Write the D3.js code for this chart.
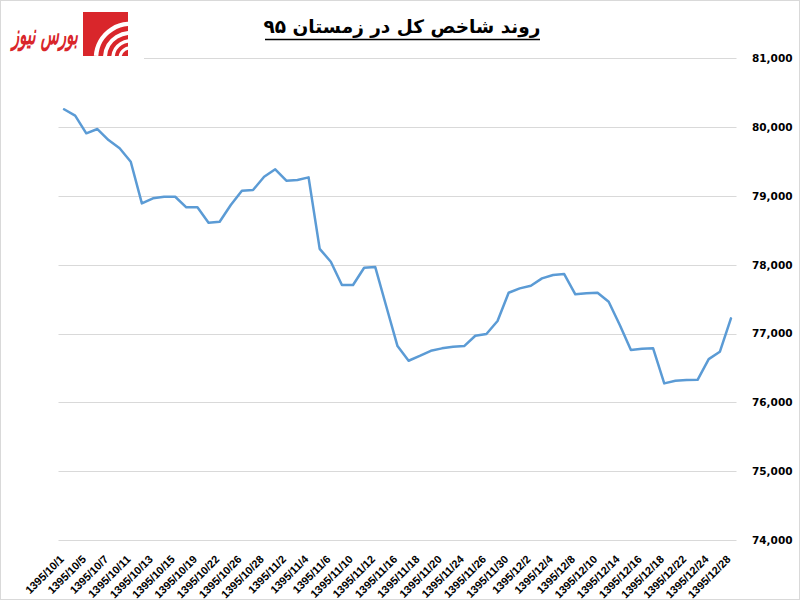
<!DOCTYPE html>
<html>
<head>
<meta charset="utf-8">
<script src="https://cdn.jsdelivr.net/npm/d3@7"></script>
<style>
  html, body { margin: 0; padding: 0; background: #fff; }
  svg { display: block; }
</style>
</head>
<body>
<svg id="chart" width="800" height="600"></svg>
<script>
// ---- data ----
const titleText = "روند شاخص کل در زمستان ۹۵";
const logoText = "بورس نیوز";
const tickLabels = [
  "1395/10/1","1395/10/5","1395/10/7","1395/10/11","1395/10/13","1395/10/15",
  "1395/10/19","1395/10/22","1395/10/26","1395/10/28","1395/11/2","1395/11/4",
  "1395/11/6","1395/11/10","1395/11/12","1395/11/16","1395/11/18","1395/11/20",
  "1395/11/24","1395/11/26","1395/11/30","1395/12/2","1395/12/4","1395/12/8",
  "1395/12/10","1395/12/14","1395/12/16","1395/12/18","1395/12/22","1395/12/24",
  "1395/12/28"
];
const indexValues = [
  80259, 80166, 79910, 79972, 79812, 79692, 79497, 78892, 78965, 78988,
  78988, 78834, 78834, 78611, 78625, 78868, 79076, 79086, 79279, 79387,
  79221, 79231, 79270, 78230, 78044, 77705, 77705, 77956, 77966, 77390,
  76818, 76605, 76675, 76750, 76785, 76808, 76818, 76968, 76993, 77182,
  77593, 77657, 77695, 77802, 77850, 77864, 77570, 77584, 77593, 77462,
  77124, 76760, 76779, 76785, 76276, 76314, 76324, 76328, 76629, 76735,
  77221
];
const yTicks = [74000, 75000, 76000, 77000, 78000, 79000, 80000, 81000];

// ---- layout ----
const svg = d3.select("#chart");
const plot = { left: 58.5, right: 736.5, top: 58.3, bottom: 540 };

// outer border
svg.append("rect").attr("x", 0.5).attr("y", 0.5).attr("width", 799).attr("height", 599)
  .attr("fill", "#fff").attr("stroke", "#d9d9d9");

const idx = d3.range(indexValues.length);
const x = d3.scalePoint().domain(idx).range([plot.left, plot.right]).padding(0.5);
const y = d3.scaleLinear().domain([74000, 81000]).range([plot.bottom, plot.top]);

// gridlines
svg.append("g").selectAll("line").data(yTicks).join("line")
  .attr("x1", plot.left).attr("x2", plot.right)
  .attr("y1", d => Math.round(y(d)) + 0.5).attr("y2", d => Math.round(y(d)) + 0.5)
  .attr("stroke", "#d9d9d9").attr("stroke-width", 1);

// right axis labels
const yAxis = d3.axisRight(y).tickValues(yTicks).tickSize(0).tickPadding(0)
  .tickFormat(d3.format(","));
const gy = svg.append("g").attr("transform", `translate(752,0)`).call(yAxis);
gy.select(".domain").remove();
gy.selectAll("text").attr("font-family", "DejaVu Sans").attr("font-weight", "bold")
  .attr("font-size", "10.5px").attr("fill", "#000");

// bottom axis labels (every other category)
const xAxis = d3.axisBottom(x)
  .tickValues(idx.filter(i => i % 2 === 0))
  .tickFormat(i => tickLabels[i / 2])
  .tickSize(0).tickPadding(0);
const gx = svg.append("g").attr("transform", `translate(0,${plot.bottom})`).call(xAxis);
gx.select(".domain").remove();
gx.selectAll("text")
  .attr("font-family", "Liberation Sans").attr("font-weight", "bold")
  .attr("font-size", "11px").attr("fill", "#000")
  .attr("text-anchor", "end")
  .attr("dy", null).attr("y", 0)
  .attr("transform", "translate(0,20) rotate(-45)");

// line
const line = d3.line().x((d, i) => x(i)).y(d => y(d));
svg.append("path").datum(indexValues)
  .attr("d", line).attr("fill", "none")
  .attr("stroke", "#5b9bd5").attr("stroke-width", 2.5)
  .attr("stroke-linejoin", "round").attr("stroke-linecap", "round");

// title
svg.append("text").attr("x", 402).attr("y", 33)
  .attr("text-anchor", "middle")
  .attr("font-family", "DejaVu Sans").attr("font-weight", "bold")
  .attr("font-size", "18.5px").attr("fill", "#000").text(titleText);
svg.append("line").attr("x1", 265).attr("x2", 540).attr("y1", 39.5).attr("y2", 39.5)
  .attr("stroke", "#000").attr("stroke-width", 1.5);

// logo
const logo = svg.append("g");
logo.append("rect").attr("x", 2).attr("y", 2).attr("width", 142).attr("height", 57).attr("fill", "#fff");
logo.append("rect").attr("x", 83).attr("y", 12).attr("width", 45).attr("height", 44).attr("fill", "#d9262b");
const clip = svg.append("clipPath").attr("id", "lclip");
clip.append("rect").attr("x", 83).attr("y", 12).attr("width", 45).attr("height", 44);
const arcs = logo.append("g").attr("clip-path", "url(#lclip)");
[[34, 4.5], [25, 4], [17, 3.5], [10, 3]].forEach(([r, w]) => {
  const cx = 130, cy = 58;
  const p = d3.path();
  p.arc(cx, cy, r, Math.PI * 1.02, Math.PI * 1.62);
  arcs.append("path").attr("d", p.toString()).attr("fill", "none")
    .attr("stroke", "#fff").attr("stroke-width", w);
});
const lg = logo.append("g").attr("transform", "translate(78,44)");
const lt = lg.append("text").attr("x", 0).attr("y", 0).attr("text-anchor", "end")
  .attr("font-family", "DejaVu Sans").attr("font-weight", "bold").attr("font-style", "italic")
  .attr("font-size", "28px").attr("fill", "#d9262b").text(logoText);
// compress horizontally to fit the logo slot
const lw = lt.node().getComputedTextLength();
lg.attr("transform", `translate(78,44) scale(${(66 / lw).toFixed(3)},1)`);
</script>
</body>
</html>
